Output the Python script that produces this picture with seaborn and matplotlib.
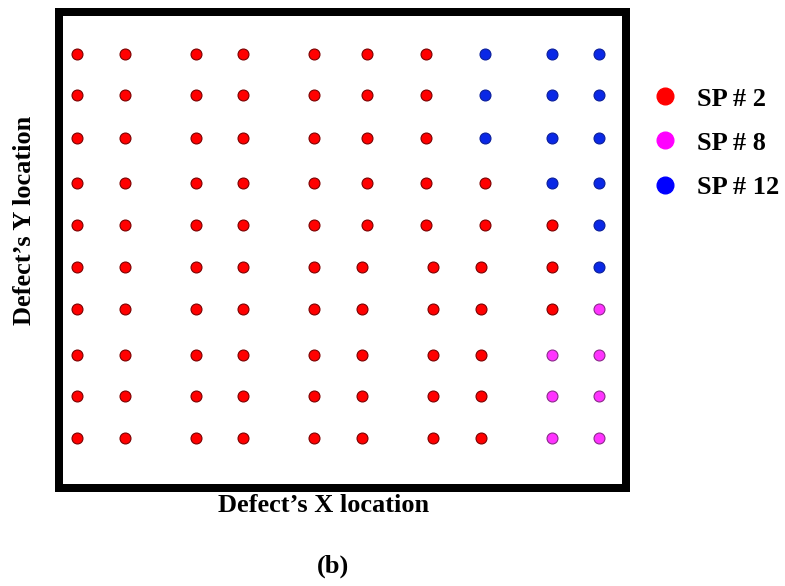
import numpy as np
import pandas as pd
import matplotlib
matplotlib.use("Agg")
import matplotlib.pyplot as plt
from matplotlib.lines import Line2D
import seaborn as sns

# Column positions of the defect grid (upper five rows / lower five rows)
x_upper = [18, 66, 137, 184, 255, 308, 367, 426, 493, 540]
x_lower = [18, 66, 137, 184, 255, 303, 374, 422, 493, 540]
# Row positions, top row first
y_rows = [434, 393, 350, 305, 263, 221, 179, 133, 92, 50]
# Specimen assigned to each defect, row by row (top to bottom)
sp_grid = [
    [2, 2, 2, 2, 2, 2, 2, 12, 12, 12],
    [2, 2, 2, 2, 2, 2, 2, 12, 12, 12],
    [2, 2, 2, 2, 2, 2, 2, 12, 12, 12],
    [2, 2, 2, 2, 2, 2, 2, 2, 12, 12],
    [2, 2, 2, 2, 2, 2, 2, 2, 2, 12],
    [2, 2, 2, 2, 2, 2, 2, 2, 2, 12],
    [2, 2, 2, 2, 2, 2, 2, 2, 2, 8],
    [2, 2, 2, 2, 2, 2, 2, 2, 8, 8],
    [2, 2, 2, 2, 2, 2, 2, 2, 8, 8],
    [2, 2, 2, 2, 2, 2, 2, 2, 8, 8],
]
sp_labels = ["SP # 2", "SP # 8", "SP # 12"]
sp_ids = [2, 8, 12]
face_colors = ["#ff0000", "#ff33ff", "#0a28e6"]
edge_colors = ["#7a0000", "#8a2a8a", "#0a1e9a"]
legend_colors = ["#ff0000", "#ff00ff", "#0000ff"]

rows = []
for r, y in enumerate(y_rows):
    xs = x_upper if r < 5 else x_lower
    for c, x in enumerate(xs):
        rows.append({"x": x, "y": y, "sp": sp_grid[r][c]})
df = pd.DataFrame(rows)

sns.set_theme(style="white")
plt.rcParams["font.family"] = ["Liberation Serif", "DejaVu Serif"]
plt.rcParams["text.color"] = "black"

W, H = 785, 586
fig = plt.figure(figsize=(W / 100, H / 100), dpi=100)
L, R, T, B = 59, 626, 12, 488
ax = fig.add_axes([L / W, 1 - B / H, (R - L) / W, (B - T) / H])

for sp, fc, ec in zip(sp_ids, face_colors, edge_colors):
    sub = df[df["sp"] == sp]
    sns.scatterplot(data=sub, x="x", y="y", ax=ax, color=fc, edgecolor=ec,
                    linewidth=0.8, s=62, legend=False, zorder=3)

ax.set_xlim(0, R - L)
ax.set_ylim(0, B - T)
ax.set_xticks([])
ax.set_yticks([])
ax.set_xlabel("")
ax.set_ylabel("")
for sp_ in ax.spines.values():
    sp_.set_visible(True)
    sp_.set_color("black")
    sp_.set_linewidth(8 * 72 / 100)

FS = 19
handles = [Line2D([0], [0], marker="o", linestyle="", markersize=12,
                  markerfacecolor=c, markeredgecolor=c) for c in legend_colors]
leg = fig.legend(handles, sp_labels, loc="upper left",
                 bbox_to_anchor=(636 / W, 1 - 74 / H), frameon=False,
                 prop={"family": "Liberation Serif", "weight": "bold", "size": FS},
                 handletextpad=0.6, labelspacing=0.78, borderpad=0, handlelength=1.2)
for t in leg.get_texts():
    t.set_color("black")

fig.text(324 / W, 1 - 506 / H, "Defect\u2019s X location", ha="center", va="center",
         fontsize=FS, fontweight="bold", color="black")
fig.text(25 / W, 1 - 220 / H, "Defect\u2019s Y location", ha="center", va="center",
         rotation=90, fontsize=FS, fontweight="bold", color="black")
fig.text(333 / W, 1 - 566 / H, "(b)", ha="center", va="center",
         fontsize=FS, fontweight="bold", color="black")

fig.savefig("out.png", dpi=100, facecolor="white")
